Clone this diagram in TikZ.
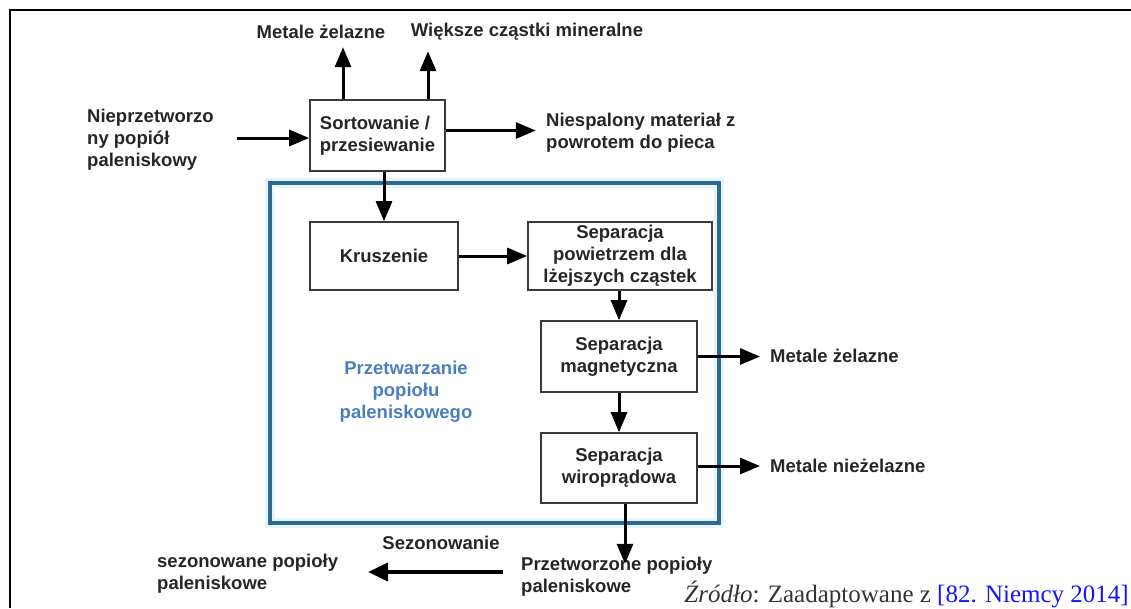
\documentclass[tikz,border=0pt]{standalone}
\usepackage{fontspec}
\setmainfont{Liberation Serif}
\newfontfamily\labfont{Liberation Sans}
\usetikzlibrary{arrows.meta,calc}

\definecolor{ink}{HTML}{262626}
\definecolor{boxline}{HTML}{3A3A3A}
\definecolor{procblue}{HTML}{2E6A90}
\definecolor{glow}{HTML}{E4F6FC}
\definecolor{labblue}{HTML}{4A7EC0}
\definecolor{refblue}{HTML}{1414FF}
\definecolor{srcgray}{HTML}{333333}

\tikzset{
  lab/.style={font=\labfont\bfseries\fontsize{18.5}{22}\selectfont, text=ink, inner sep=2pt},
  stepbox/.style={lab, draw=boxline, line width=1.6pt, fill=white, align=center},
  arr/.style={draw=black, line width=3pt, -{Triangle[length=20pt,width=16pt]}},
  procframe/.style={draw=procblue, line width=4.5pt, inner sep=0pt,
    preaction={draw=glow, line width=10pt}},
}

\begin{document}
\begin{tikzpicture}[x=1pt,y=-1pt]
\useasboundingbox (0,0) rectangle (1131,608);

% page frame (top and left edges)
\draw[line width=2.2pt, black] (10,608) -- (10,10) -- (1131,10);

% processing area
\node[procframe, minimum width=449pt, minimum height=340pt] (proc) at (494.5,353) {};
\node[lab, text=labblue, align=center] (proclab) at (406,392) {Przetwarzanie\\popiołu\\paleniskowego};

% sorting stage and its outputs
\node[stepbox, align=left, minimum width=135pt, minimum height=71pt] (sort) at (377.5,135.5) {Sortowanie /\\przesiewanie};
\node[lab, anchor=west, align=left] (raw) at (85,140) {Nieprzetworzo\\ny popiół\\paleniskowy};
\node[lab] (fe1) at (321,32) {Metale żelazne};
\node[lab] (mineral) at (527,32) {Większe cząstki mineralne};
\node[lab, anchor=west, align=left] (unburnt) at (544,133) {Niespalony materiał z\\powrotem do pieca};

\coordinate (rawEnd) at (237,138);
\draw[arr] (rawEnd) -- (rawEnd -| sort.west);
\draw[arr] ($(sort.north)+(-34.5,0)$) -- ++(0,-52);
\draw[arr] ($(sort.north)+(50.5,0)$) -- ++(0,-48);
\draw[arr] ($(sort.east)+(0,-5)$) -- ++(90,0);

% processing steps
\node[stepbox, minimum width=148pt, minimum height=68pt] (krus) at (384,256) {Kruszenie};
\node[stepbox, minimum width=184pt, minimum height=68pt, inner sep=1pt] (air) at (620,256) {Separacja\\powietrzem dla\\lżejszych cząstek};
\node[stepbox, minimum width=156pt, minimum height=71pt] (mag) at (619,356.5) {Separacja\\magnetyczna};
\node[stepbox, minimum width=156pt, minimum height=70pt] (eddy) at (619,468) {Separacja\\wiroprądowa};

\node[lab, anchor=west] (fe2) at (768,356) {Metale żelazne};
\node[lab, anchor=west] (nfe) at (768,466) {Metale nieżelazne};

\draw[arr] (krus.north |- sort.south) -- (krus.north);
\draw[arr] (krus.east) -- (air.west);
\draw[arr] (mag.north |- air.south) -- (mag.north);
\draw[arr] (mag.south) -- (eddy.north);
\draw[arr, shorten >=8pt] (mag.east) -- (mag.east -| fe2.west);
\coordinate (eddyOut) at ($(eddy.east)+(0,-2)$);
\draw[arr, shorten >=8pt] (eddyOut) -- (eddyOut -| nfe.west);

% output and seasoning
\node[lab, anchor=west, align=left] (out) at (519,577) {Przetworzone popioły\\paleniskowe};
\node[lab] (seas) at (441,543) {Sezonowanie};
\node[lab, anchor=west, align=left] (final) at (155,574) {sezonowane popioły\\paleniskowe};

\coordinate (eddyDown) at ($(eddy.south)+(6,0)$);
\draw[arr] (eddyDown) -- ++(0,60);
\coordinate (seasStart) at (503,572);
\coordinate (seasEnd) at (368,572);
\draw[arr, line width=4pt, -{Triangle[length=20pt,width=18pt]}] (seasStart) -- (seasEnd);

% source note
\node[anchor=base east, inner sep=0pt, font=\fontsize{25}{28}\selectfont, text=srcgray] (src) at (1129,602)
  {\textit{Źródło}: Zaadaptowane z \textcolor{refblue}{[82. Niemcy 2014]}};
\end{tikzpicture}
\end{document}
